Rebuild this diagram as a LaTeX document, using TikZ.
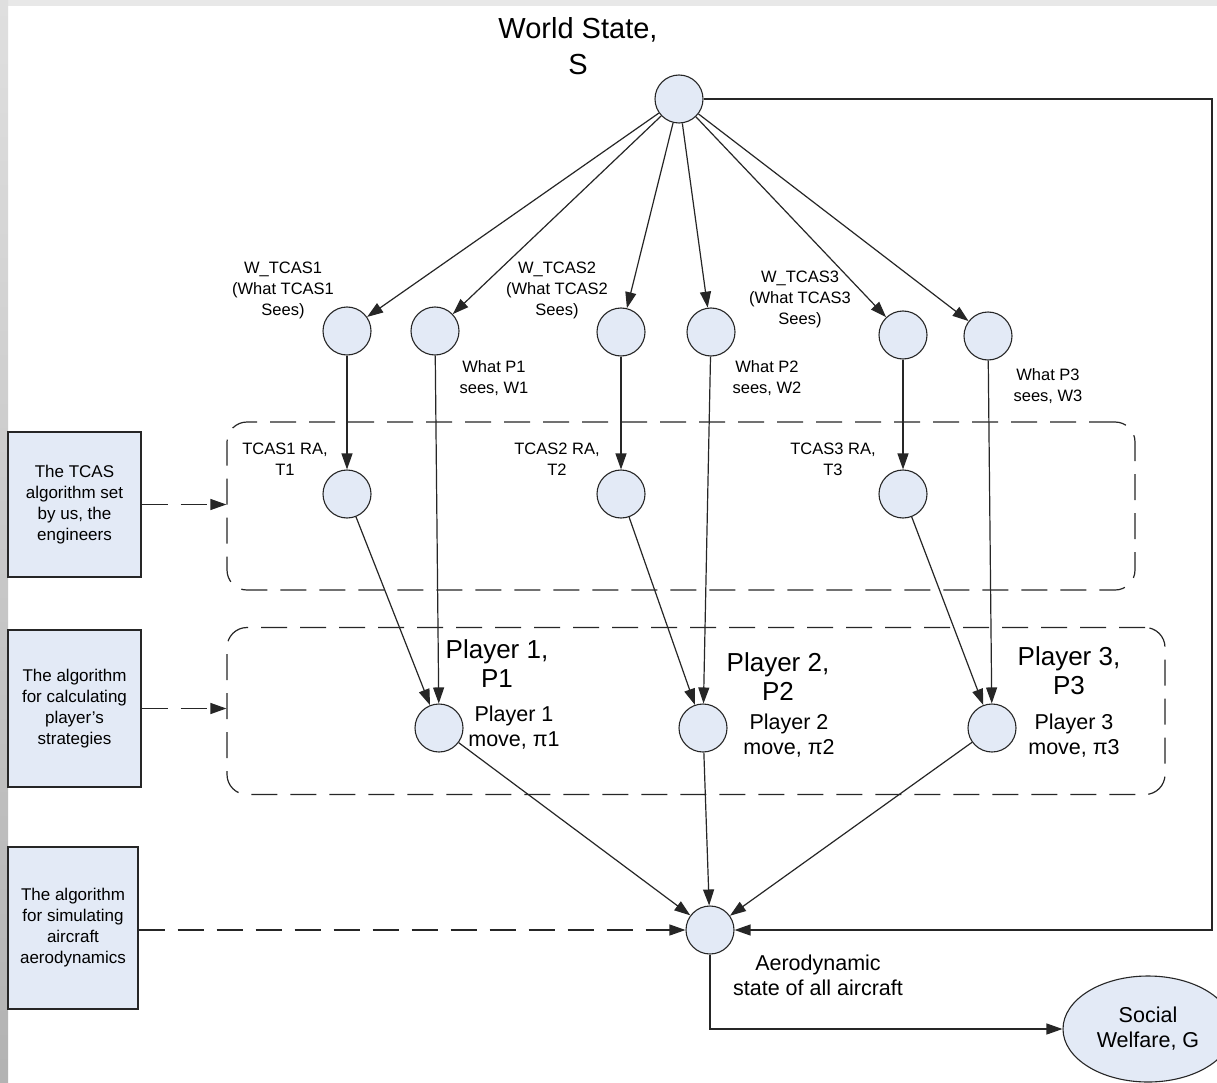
\documentclass[tikz,border=0pt]{standalone}
\usepackage{fontspec}
\setmainfont{Liberation Sans}
\usetikzlibrary{arrows.meta,shapes.geometric,positioning}
\definecolor{nodefill}{HTML}{E3EAF6}
\definecolor{linegray}{HTML}{262626}

\begin{document}
\begin{tikzpicture}[
        x=1pt, y=-1pt,
        state/.style={circle, draw=linegray, fill=nodefill, line width=1.1pt, minimum size=48pt, inner sep=0pt},
        algo/.style={rectangle, draw=linegray, fill=nodefill, line width=1.1pt, align=center, inner sep=0pt, minimum width=133pt, font=\fontsize{17}{21}\selectfont},
        group/.style={rectangle, rounded corners=20pt, draw=linegray, line width=1.2pt, dash pattern=on 26pt off 13pt, inner sep=0pt},
        lbl/.style={align=center, inner sep=0pt, font=\fontsize{16.5}{21}\selectfont},
        midlbl/.style={align=center, inner sep=0pt, font=\fontsize{21.5}{25}\selectfont},
        biglbl/.style={align=center, inner sep=0pt, font=\fontsize{26}{29}\selectfont},
        arrow/.style={line width=1.2pt, draw=linegray, -{Triangle[length=16pt,width=11pt]}},
        dasharrow/.style={arrow, dash pattern=on 26pt off 13pt}
    ]
        \useasboundingbox (0,0) rectangle (1217,1083);
        \fill[white] (0,0) rectangle (1217,1083);
        \fill[gray!18] (0,0) rectangle (1217,6);
        \shade[top color=gray!25, bottom color=gray!60] (0,0) rectangle (8,1083);

        % world state
        \node (ws) [state] at (679,99) {};
        \node (wslbl) [align=center, inner sep=0pt, font=\fontsize{29}{36}\selectfont] at (578,46) {World State,\\S};

        % what each one sees
        \node (tsee1) [state] at (347,331) {};
        \node (psee1) [state] at (435,331) {};
        \node (tsee2) [state] at (621,332) {};
        \node (psee2) [state] at (711,332) {};
        \node (tsee3) [state] at (903,335) {};
        \node (psee3) [state] at (988,336) {};
        \node (tlbl1) [lbl] at (283,290) {W\_TCAS1\\(What TCAS1\\Sees)};
        \node (tlbl2) [lbl] at (557,290) {W\_TCAS2\\(What TCAS2\\Sees)};
        \node (tlbl3) [lbl] at (800,299) {W\_TCAS3\\(What TCAS3\\Sees)};
        \node (plbl1) [lbl] at (494,378) {What P1\\sees, W1};
        \node (plbl2) [lbl] at (767,378) {What P2\\sees, W2};
        \node (plbl3) [lbl] at (1048,386) {What P3\\sees, W3};

        % TCAS resolution advisories
        \node (tcasgrp) [group, minimum width=908pt, minimum height=168pt] at (681,506) {};
        \node (ra1) [state] at (347,494) {};
        \node (ra2) [state] at (621,494) {};
        \node (ra3) [state] at (903,494) {};
        \node (ralbl1) [lbl] at (285,459) {TCAS1 RA,\\T1};
        \node (ralbl2) [lbl] at (557,459) {TCAS2 RA,\\T2};
        \node (ralbl3) [lbl] at (833,459) {TCAS3 RA,\\T3};

        % players
        \node (stratgrp) [group, minimum width=938pt, minimum height=167pt] at (696,711) {};
        \node (mv1) [state] at (439,728) {};
        \node (mv2) [state] at (703,728) {};
        \node (mv3) [state] at (992,728) {};
        \node (player1) [biglbl] at (497,664) {Player 1,\\P1};
        \node (player2) [biglbl] at (778,677) {Player 2,\\P2};
        \node (player3) [biglbl] at (1069,671) {Player 3,\\P3};
        \node (mvlbl1) [midlbl] at (514,728) {Player 1\\move, π1};
        \node (mvlbl2) [midlbl] at (789,736) {Player 2\\move, π2};
        \node (mvlbl3) [midlbl] at (1074,736) {Player 3\\move, π3};

        % outcome
        \node (aero) [state] at (710,930) {};
        \node (aerolbl) [midlbl] at (818,975) {Aerodynamic\\state of all aircraft};
        \node (welfare) [ellipse, draw=linegray, fill=nodefill, line width=1.1pt, minimum width=170pt, minimum height=106pt, align=center, font=\fontsize{21.5}{25}\selectfont] at (1148,1029) {Social\\Welfare, G};

        % algorithms
        \node (tcasalgo) [algo, minimum height=145pt] at (74.5,504.5) {The TCAS\\algorithm set\\by us, the\\engineers};
        \node (stratalgo) [algo, minimum height=157pt] at (74.5,708.5) {The algorithm\\for calculating\\player's\\strategies};
        \node (aeroalgo) [algo, minimum width=130pt, minimum height=162pt] at (73,928) {The algorithm\\for simulating\\aircraft\\aerodynamics};

        \foreach \n in {tsee1,psee1,tsee2,psee2,tsee3,psee3}
            \draw[arrow] (ws) -- (\n);
        \foreach \i in {1,2,3} {
            \draw[arrow] (tsee\i) -- (ra\i);
            \draw[arrow] (ra\i) -- (mv\i);
            \draw[arrow] (psee\i) -- (mv\i);
            \draw[arrow] (mv\i) -- (aero);
        }
        \coordinate (fbk) at (1212,99);
        \draw[arrow] (ws) -- (fbk) |- (aero);
        \draw[arrow] (aero) |- (welfare);

        \draw[dasharrow] (tcasalgo) -- (tcasalgo -| tcasgrp.west);
        \draw[dasharrow] (stratalgo) -- (stratalgo -| stratgrp.west);
        \draw[dasharrow] (aeroalgo.east |- aero) -- (aero);
    \end{tikzpicture}
\end{document}
